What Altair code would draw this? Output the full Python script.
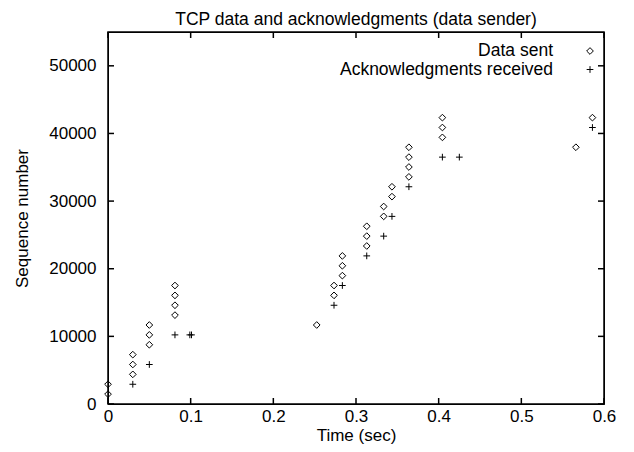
import altair as alt
import pandas as pd

# ---- data ----
sent_time = [0.0, 0.0, 0.03, 0.03, 0.03, 0.05, 0.05, 0.05, 0.081, 0.081, 0.081, 0.081,
             0.2525, 0.2734, 0.2734, 0.2835, 0.2835, 0.2835, 0.313, 0.313, 0.313,
             0.3335, 0.3335, 0.3435, 0.3435, 0.364, 0.364, 0.364, 0.364,
             0.4045, 0.4045, 0.4045, 0.566, 0.586]
sent_seq = [1460, 2920, 4380, 5840, 7300, 8760, 10220, 11680, 13140, 14600, 16060, 17520,
            11680, 16060, 17520, 18980, 20440, 21900, 23360, 24820, 26280,
            27740, 29200, 30660, 32120, 33580, 35040, 36500, 37960,
            39420, 40880, 42340, 37960, 42340]
ack_time = [0.03, 0.05, 0.081, 0.099, 0.101, 0.2734, 0.2835, 0.313, 0.3335, 0.3435,
            0.364, 0.4045, 0.425, 0.586]
ack_seq = [2920, 5840, 10220, 10220, 10220, 14600, 17520, 21900, 24820, 27740,
           32120, 36500, 36500, 40880]
series_names = ["Data sent", "Acknowledgments received"]
x_ticks = [0, 0.1, 0.2, 0.3, 0.4, 0.5, 0.6]
y_ticks = [0, 10000, 20000, 30000, 40000, 50000]

W, H = 496, 372
FONT = "Liberation Sans"
FS = 17
PLUS = "M-1,0H1M0,-1V1"
SHAPES = ["diamond", PLUS]
TICK = 6
LW = 1.5

df = pd.DataFrame({
    "time": sent_time + ack_time,
    "seq": sent_seq + ack_seq,
    "series": [series_names[0]] * len(sent_time) + [series_names[1]] * len(ack_time),
})
xt = pd.DataFrame({"t": x_ticks})
yt = pd.DataFrame({"s": y_ticks})

xscale = alt.Scale(domain=[0, 0.6], nice=False, zero=False)
yscale = alt.Scale(domain=[0, 55000], nice=False)

common = dict(grid=False, labelFont=FONT, titleFont=FONT, labelColor="black", titleColor="black",
              labelFontSize=FS, titleFontSize=FS, titleFontWeight="normal")

points = alt.Chart(df).mark_point(filled=False, size=45, strokeWidth=1, color="black", opacity=1).encode(
    x=alt.X("time:Q", scale=xscale,
            axis=alt.Axis(values=x_ticks, format="~g", title="Time (sec)",
                          ticks=False, domain=False, labelPadding=4, labelFlush=False,
                          labelOverlap=False, titleBaseline="alphabetic", titleY=36, **common)),
    y=alt.Y("seq:Q", scale=yscale,
            axis=alt.Axis(values=y_ticks, format="d", title="Sequence number",
                          ticks=False, domain=False, labelPadding=12, titlePadding=17,
                          labelFlush=False, labelOverlap=False, **common)),
    shape=alt.Shape("series:N", scale=alt.Scale(domain=series_names, range=SHAPES), legend=None),
)

# plot frame as a stroked rectangle
frame = alt.Chart(pd.DataFrame({"k": [0]})).mark_rect(
    fill="white", fillOpacity=0, stroke="black", strokeWidth=LW, strokeOpacity=1).encode(
    x=alt.value(0), x2=alt.value(W), y=alt.value(0), y2=alt.value(H))

# inward ticks on all four sides
def xticks(y0, y1):
    return alt.Chart(xt).mark_rule(color="black", strokeWidth=LW, opacity=1).encode(
        x=alt.X("t:Q", scale=xscale), y=alt.value(y0), y2=alt.value(y1))

def yticks(x0, x1):
    return alt.Chart(yt).mark_rule(color="black", strokeWidth=LW, opacity=1).encode(
        y=alt.Y("s:Q", scale=yscale), x=alt.value(x0), x2=alt.value(x1))

tick_layers = [xticks(H - TICK, H), xticks(0, TICK), yticks(0, TICK), yticks(W - TICK, W)]

# legend (gnuplot style: label right-aligned, symbol to its right)
legend_layers = []
for i, name in enumerate(series_names):
    ldf = pd.DataFrame({"label": [name]})
    ly = 19 + 18.5 * i
    legend_layers.append(alt.Chart(ldf).mark_text(
        align="right", baseline="middle", font=FONT, fontSize=17.5, color="black").encode(
        text="label:N", x=alt.value(445), y=alt.value(ly)))
    legend_layers.append(alt.Chart(ldf).mark_point(
        shape=SHAPES[i], filled=False, size=45, strokeWidth=1, color="black", opacity=1).encode(
        x=alt.value(482), y=alt.value(ly)))

chart = alt.layer(frame, *tick_layers, points, *legend_layers).properties(
    width=W, height=H,
    title=alt.TitleParams("TCP data and acknowledgments (data sender)", fontSize=17.5,
                          fontWeight="normal", font=FONT, color="black", anchor="middle", offset=3),
    autosize=alt.AutoSizeParams(type="none"),
    padding={"left": 100, "top": 24, "right": 22, "bottom": 40},
).configure_view(stroke="black", strokeWidth=1)

chart.save("out.html", embed_options={"renderer": "svg", "actions": False})
